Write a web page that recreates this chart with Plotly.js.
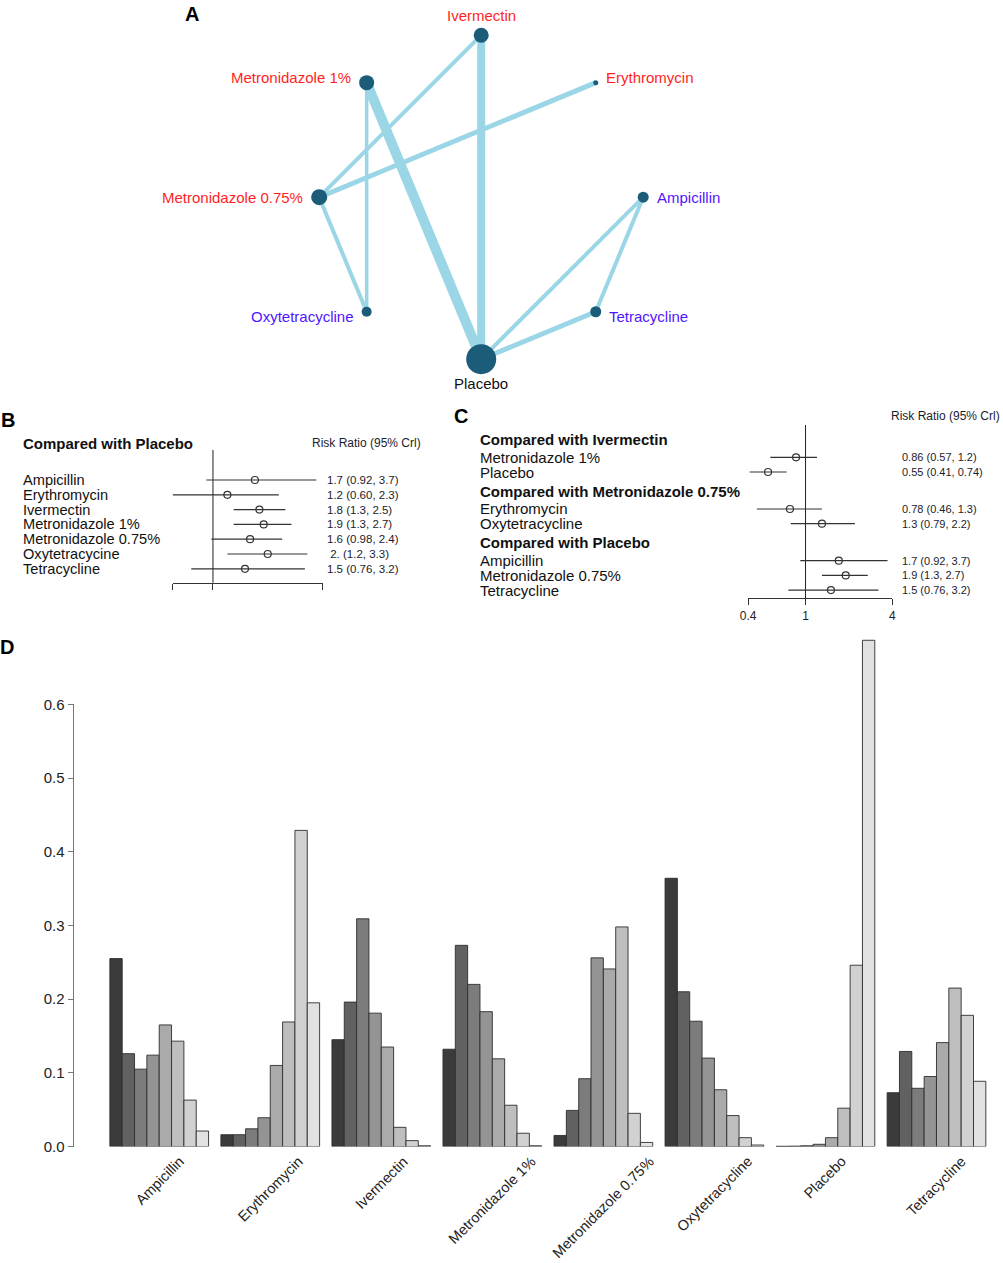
<!DOCTYPE html>
<html><head><meta charset="utf-8">
<script src="https://cdn.plot.ly/plotly-3.0.1.min.js"></script>
<style>body{margin:0;background:#fff}#chart{width:1003px;height:1263px}</style>
</head><body><div id="chart"></div>
<script>
// ================= DATA =================
// Panel D: rank probabilities (rank 1 .. rank 8) for each treatment
const drugs = ['Ampicillin','Erythromycin','Ivermectin','Metronidazole 1%','Metronidazole 0.75%','Oxytetracycline','Placebo','Tetracycline'];
const rankNames = ['Rank 1','Rank 2','Rank 3','Rank 4','Rank 5','Rank 6','Rank 7','Rank 8'];
const probAmpicillin   = [0.255, 0.126, 0.105, 0.124, 0.165, 0.143, 0.063, 0.021];
const probErythromycin = [0.016, 0.016, 0.024, 0.039, 0.110, 0.169, 0.429, 0.195];
const probIvermectin   = [0.145, 0.196, 0.309, 0.181, 0.135, 0.026, 0.008, 0.001];
const probMetro1       = [0.132, 0.273, 0.220, 0.183, 0.119, 0.056, 0.018, 0.001];
const probMetro075     = [0.015, 0.049, 0.092, 0.256, 0.241, 0.298, 0.045, 0.0055];
const probOxytetra     = [0.364, 0.210, 0.170, 0.120, 0.077, 0.042, 0.012, 0.002];
const probPlacebo      = [0.0003, 0.0005, 0.001, 0.003, 0.012, 0.052, 0.246, 0.687];
const probTetra        = [0.073, 0.129, 0.079, 0.095, 0.141, 0.215, 0.178, 0.0885];
const yTickVals = [0, 0.1, 0.2, 0.3, 0.4, 0.5, 0.6];
const yTickText = ['0.0','0.1','0.2','0.3','0.4','0.5','0.6'];

// Panel A: network (nodes in circular order, starting at the top, counter-clockwise)
const netNodes = ['Ivermectin','Metronidazole 1%','Metronidazole 0.75%','Oxytetracycline','Placebo','Tetracycline','Ampicillin','Erythromycin'];
const netNodeSize = [15, 15, 16, 10, 30, 11, 11, 5];
const netLabelGroup = ['red','red','red','blue','black','blue','blue','red'];
const netEdgeFrom = ['Ivermectin','Metronidazole 1%','Ivermectin','Erythromycin','Metronidazole 1%','Metronidazole 0.75%','Ampicillin','Ampicillin','Tetracycline'];
const netEdgeTo   = ['Placebo','Placebo','Metronidazole 0.75%','Metronidazole 0.75%','Oxytetracycline','Oxytetracycline','Placebo','Tetracycline','Placebo'];
const netEdgeWeight = [8, 10, 4, 5, 3.5, 4, 4, 4, 5];

// Panel B: compared with Placebo
const forestBHeader = 'Compared with Placebo';
const forestBLabels = ['Ampicillin','Erythromycin','Ivermectin','Metronidazole 1%','Metronidazole 0.75%','Oxytetracycine','Tetracycline'];
const forestBMean = [1.7, 1.2, 1.8, 1.9, 1.6, 2.0, 1.5];
const forestBLow  = [0.92, 0.60, 1.3, 1.3, 0.98, 1.2, 0.76];
const forestBHigh = [3.7, 2.3, 2.5, 2.7, 2.4, 3.3, 3.2];
const forestBText = ['1.7 (0.92, 3.7)','1.2 (0.60, 2.3)','1.8 (1.3, 2.5)','1.9 (1.3, 2.7)','1.6 (0.98, 2.4)',' 2. (1.2, 3.3)','1.5 (0.76, 3.2)'];
const forestBTicks = [0.6, 1, 4];

// Panel C: selected comparisons
const forestCGroup  = ['Compared with Ivermectin','Compared with Ivermectin','Compared with Metronidazole 0.75%','Compared with Metronidazole 0.75%','Compared with Placebo','Compared with Placebo','Compared with Placebo'];
const forestCLabels = ['Metronidazole 1%','Placebo','Erythromycin','Oxytetracycline','Ampicillin','Metronidazole 0.75%','Tetracycline'];
const forestCMean = [0.86, 0.55, 0.78, 1.3, 1.7, 1.9, 1.5];
const forestCLow  = [0.57, 0.41, 0.46, 0.79, 0.92, 1.3, 0.76];
const forestCHigh = [1.2, 0.74, 1.3, 2.2, 3.7, 2.7, 3.2];
const forestCText = ['0.86 (0.57, 1.2)','0.55 (0.41, 0.74)','0.78 (0.46, 1.3)','1.3 (0.79, 2.2)','1.7 (0.92, 3.7)','1.9 (1.3, 2.7)','1.5 (0.76, 3.2)'];
const forestCTicks = [0.4, 1, 4];
const riskRatioTitle = 'Risk Ratio (95% Crl)';

// ================= STYLE / LAYOUT =================
const W = 1003, H = 1263;
const PX = x => x / W, PY = y => 1 - y / H;
const FONT = 'Liberation Sans, Arial, Helvetica, sans-serif';
const greys = ['#3b3b3b','#616161','#7c7c7c','#949494','#aaaaaa','#bebebe','#d1d1d1','#e1e1e1'];
const labelColors = {red:'#ff1f1f', blue:'#4f16ff', black:'#111111'};
const traces = [];
const annotations = [];
const shapes = [];

// ---------- Panel D ----------
const probByDrug = [probAmpicillin, probErythromycin, probIvermectin, probMetro1, probMetro075, probOxytetra, probPlacebo, probTetra];
rankNames.forEach((rn, r) => {
  traces.push({
    type: 'bar', x: drugs, y: probByDrug.map(p => p[r]), name: rn,
    xaxis: 'x', yaxis: 'y',
    marker: {color: greys[r], line: {color: '#2e2e2e', width: 0.9}},
    hoverinfo: 'x+y+name'
  });
});
drugs.forEach(d => {
  annotations.push({xref: 'x', yref: 'y', x: d, y: 0, text: d, showarrow: false,
    textangle: -45, xanchor: 'center', yanchor: 'top', yshift: -4,
    font: {family: FONT, size: 14.5, color: '#222'}});
});
shapes.push({type: 'line', xref: 'paper', yref: 'y', x0: PX(73.5), x1: PX(73.5), y0: 0, y1: 0.6,
  line: {color: '#777', width: 1}});

// ---------- Panel A ----------
const cx = 481.2, cy = 197.2, R = 162;
const ax2 = [261, 701], ay2 = [0, 395];
const nodeAng = netNodes.map((n, i) => (90 + 45 * i) * Math.PI / 180);
const nodeX = nodeAng.map(a => Math.cos(a));
const nodeY = nodeAng.map(a => Math.sin(a));
const idx = n => netNodes.indexOf(n);
netEdgeFrom.forEach((f, k) => {
  const a = idx(f), b = idx(netEdgeTo[k]);
  traces.push({type: 'scatter', mode: 'lines', x: [nodeX[a], nodeX[b]], y: [nodeY[a], nodeY[b]],
    xaxis: 'x2', yaxis: 'y2', line: {color: '#9ad6e6', width: netEdgeWeight[k]}, hoverinfo: 'skip'});
});
traces.push({type: 'scatter', mode: 'markers', x: nodeX, y: nodeY, text: netNodes, hoverinfo: 'text',
  xaxis: 'x2', yaxis: 'y2', marker: {color: '#1b5c79', size: netNodeSize, opacity: 1, line: {width: 0}}});
netNodes.forEach((n, i) => {
  const c = nodeX[i], s = nodeY[i], sz = netNodeSize[i];
  let xa = 'center', xs = 0, ys = 0;
  if (c > 0.1) { xa = 'left'; xs = sz / 2 + 6; ys = 7 * s; }
  else if (c < -0.1) { xa = 'right'; xs = -(sz / 2 + 6); ys = 7 * s; }
  else if (s > 0) { ys = sz / 2 + 12; }
  else { ys = -(sz / 2 + 9); }
  annotations.push({xref: 'x2', yref: 'y2', x: c, y: s, text: n, showarrow: false,
    xanchor: xa, yanchor: 'middle', xshift: xs, yshift: ys,
    font: {family: FONT, size: 15, color: labelColors[netLabelGroup[i]]}});
});

// ---------- Panel B ----------
const rowB0 = 480, rowBStep = 14.8;
const rowPxB = i => rowB0 + rowBStep * i;
const pxToRowB = p => (p - rowB0) / rowBStep;
const ciBx = [], ciBy = [];
forestBLabels.forEach((l, i) => { ciBx.push(forestBLow[i], forestBHigh[i], null); ciBy.push(i, i, null); });
traces.push({type: 'scatter', mode: 'lines', x: [1, 1], y: [pxToRowB(450), pxToRowB(582.7)],
  xaxis: 'x3', yaxis: 'y3', line: {color: '#222', width: 1}, hoverinfo: 'skip'});
traces.push({type: 'scatter', mode: 'lines', x: ciBx, y: ciBy, xaxis: 'x3', yaxis: 'y3',
  line: {color: '#333', width: 1.2}, hoverinfo: 'skip'});
traces.push({type: 'scatter', mode: 'markers', x: forestBMean, y: forestBLabels.map((l, i) => i),
  xaxis: 'x3', yaxis: 'y3', text: forestBText, hoverinfo: 'text',
  marker: {symbol: 'circle-open', size: 7, color: '#333', opacity: 1, line: {width: 1.2, color: '#333'}}});
annotations.push({xref: 'paper', yref: 'paper', x: PX(21), y: PY(443), text: '<b>' + forestBHeader + '</b>',
  showarrow: false, xanchor: 'left', yanchor: 'middle', font: {family: FONT, size: 15, color: '#111'}});
annotations.push({xref: 'paper', yref: 'paper', x: PX(310), y: PY(443), text: riskRatioTitle,
  showarrow: false, xanchor: 'left', yanchor: 'middle', font: {family: FONT, size: 12, color: '#1c1c2c'}});
forestBLabels.forEach((l, i) => {
  annotations.push({xref: 'paper', yref: 'paper', x: PX(21), y: PY(rowPxB(i)), text: l, showarrow: false,
    xanchor: 'left', yanchor: 'middle', font: {family: FONT, size: 14.6, color: '#111'}});
  annotations.push({xref: 'paper', yref: 'paper', x: PX(325), y: PY(rowPxB(i)), text: forestBText[i], showarrow: false,
    xanchor: 'left', yanchor: 'middle', font: {family: FONT, size: 11.5, color: '#1c1c2c'}});
});

// ---------- Panel C ----------
const rowsC = [];
let cur = 439.3;
let lastG = null;
forestCGroup.forEach((g, i) => {
  if (g !== lastG) {
    if (lastG !== null) cur += 19 - 14.7;
    rowsC.push({type: 'h', text: g, y: cur});
    cur += 18; lastG = g;
  }
  rowsC.push({type: 'i', k: i, y: cur});
  cur += 14.7;
});
const itemYC = rowsC.filter(r => r.type === 'i').map(r => r.y);
const ciCx = [], ciCy = [];
forestCLabels.forEach((l, i) => { ciCx.push(forestCLow[i], forestCHigh[i], null); ciCy.push(itemYC[i], itemYC[i], null); });
traces.push({type: 'scatter', mode: 'lines', x: [1, 1], y: [425, 598.3],
  xaxis: 'x4', yaxis: 'y4', line: {color: '#222', width: 1}, hoverinfo: 'skip'});
traces.push({type: 'scatter', mode: 'lines', x: ciCx, y: ciCy, xaxis: 'x4', yaxis: 'y4',
  line: {color: '#333', width: 1.2}, hoverinfo: 'skip'});
traces.push({type: 'scatter', mode: 'markers', x: forestCMean, y: itemYC,
  xaxis: 'x4', yaxis: 'y4', text: forestCText, hoverinfo: 'text',
  marker: {symbol: 'circle-open', size: 7, color: '#333', opacity: 1, line: {width: 1.2, color: '#333'}}});
rowsC.forEach(r => {
  if (r.type === 'h') {
    annotations.push({xref: 'paper', yref: 'paper', x: PX(478), y: PY(r.y), text: '<b>' + r.text + '</b>', showarrow: false,
      xanchor: 'left', yanchor: 'middle', font: {family: FONT, size: 15, color: '#111'}});
  } else {
    annotations.push({xref: 'paper', yref: 'paper', x: PX(478), y: PY(r.y), text: forestCLabels[r.k], showarrow: false,
      xanchor: 'left', yanchor: 'middle', font: {family: FONT, size: 15, color: '#111'}});
    annotations.push({xref: 'paper', yref: 'paper', x: PX(900), y: PY(r.y), text: forestCText[r.k], showarrow: false,
      xanchor: 'left', yanchor: 'middle', font: {family: FONT, size: 11, color: '#1c1c2c'}});
  }
});
annotations.push({xref: 'paper', yref: 'paper', x: PX(889), y: PY(416), text: riskRatioTitle,
  showarrow: false, xanchor: 'left', yanchor: 'middle', font: {family: FONT, size: 12, color: '#1c1c2c'}});

// ---------- Panel letters ----------
[['A', 191.5, 14], ['B', 8, 420], ['C', 461, 416], ['D', 7, 647]].forEach(([t, x, y]) => {
  annotations.push({xref: 'paper', yref: 'paper', x: PX(x), y: PY(y), text: '<b>' + t + '</b>', showarrow: false,
    xanchor: 'center', yanchor: 'middle', font: {family: FONT, size: 20, color: '#000'}});
});

const hidden = {visible: false, showgrid: false, zeroline: false, fixedrange: true};
const layout = {
  width: W, height: H, margin: {l: 0, r: 0, t: 0, b: 0},
  paper_bgcolor: '#fff', plot_bgcolor: 'rgba(0,0,0,0)',
  showlegend: false, barmode: 'group', bargap: 0.111, bargroupgap: 0,
  font: {family: FONT, color: '#222'},
  xaxis: {domain: [PX(103.7), PX(992)], type: 'category', range: [-0.5, 7.5], showticklabels: false,
    showline: false, showgrid: false, zeroline: false, ticks: '', fixedrange: true},
  yaxis: {domain: [PY(1146.5), PY(630.7)], range: [0, 0.7], anchor: 'free', position: PX(73.5),
    tickvals: yTickVals, ticktext: yTickText, ticks: 'outside', ticklen: 6, tickcolor: '#777', tickwidth: 1,
    showline: false, showgrid: false, zeroline: false, tickfont: {family: FONT, size: 15, color: '#222'}, fixedrange: true},
  xaxis2: Object.assign({domain: [PX(ax2[0]), PX(ax2[1])], range: [(ax2[0] - cx) / R, (ax2[1] - cx) / R], anchor: 'y2'}, hidden),
  yaxis2: Object.assign({domain: [PY(ay2[1]), PY(ay2[0])], range: [(cy - ay2[1]) / R, (cy - ay2[0]) / R], anchor: 'x2'}, hidden),
  xaxis3: {type: 'log', domain: [PX(172.6), PX(322.5)], range: [Math.log10(forestBTicks[0]), Math.log10(forestBTicks[2])],
    anchor: 'free', position: PY(582.7), showline: true, linecolor: '#333', linewidth: 1,
    ticks: 'outside', ticklen: 6, tickcolor: '#333', tickvals: forestBTicks, showticklabels: false,
    showgrid: false, zeroline: false, fixedrange: true},
  yaxis3: Object.assign({domain: [PY(595), PY(445)], range: [pxToRowB(595), pxToRowB(445)], anchor: 'x3'}, hidden),
  xaxis4: {type: 'log', domain: [PX(748.1), PX(892.4)], range: [Math.log10(forestCTicks[0]), Math.log10(forestCTicks[2])],
    anchor: 'free', position: PY(598.3), showline: true, linecolor: '#333', linewidth: 1,
    ticks: 'outside', ticklen: 6, tickcolor: '#333', tickvals: forestCTicks, ticktext: forestCTicks.map(String),
    tickfont: {family: FONT, size: 12, color: '#222'}, showgrid: false, zeroline: false, fixedrange: true},
  yaxis4: Object.assign({domain: [PY(620), PY(420)], range: [620, 420], anchor: 'x4'}, hidden),
  annotations: annotations, shapes: shapes
};
Plotly.newPlot('chart', traces, layout, {displayModeBar: false});
</script>
</body></html>
